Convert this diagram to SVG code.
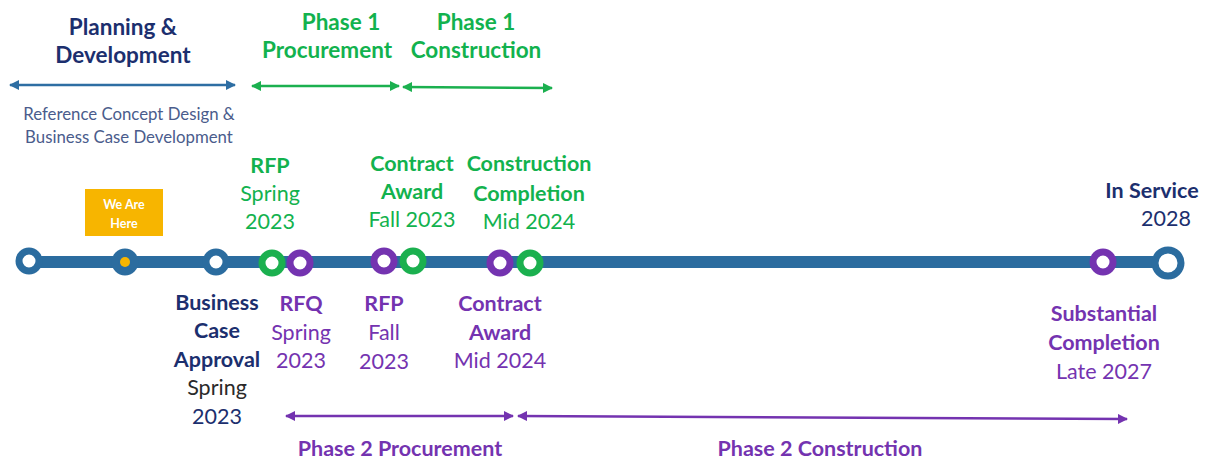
<svg xmlns="http://www.w3.org/2000/svg" width="1220" height="460" viewBox="0 0 1220 460">
  <style>
    text { font-family: Lato, "Open Sans", "Liberation Sans", sans-serif; font-size: 21.5px; text-anchor: middle; }
    .b { font-weight: bold; }
    .h { font-size: 22.5px; }
    .navy { fill: #1c2f6e; }
    .green { fill: #12b24e; }
    .purple { fill: #7433b0; }
    .slate { fill: #4a5c8c; font-size: 16.8px; }
    .dark { fill: #2a2a2a; }
    .span { fill: none; stroke-width: 2.5; }
    .ring { fill: #ffffff; stroke-width: 7; }
    .rail { stroke: #2b6c9f; stroke-width: 12; fill: none; }
  </style>
  <defs>
    <marker id="ah-blue" viewBox="0 0 10 10" refX="9" refY="5" markerWidth="4" markerHeight="4" orient="auto-start-reverse">
      <path d="M0,0 L10,5 L0,10 z" fill="#2e6ea3"/>
    </marker>
    <marker id="ah-green" viewBox="0 0 10 10" refX="9" refY="5" markerWidth="4" markerHeight="4" orient="auto-start-reverse">
      <path d="M0,0 L10,5 L0,10 z" fill="#1bb04f"/>
    </marker>
    <marker id="ah-purple" viewBox="0 0 10 10" refX="9" refY="5" markerWidth="4" markerHeight="4" orient="auto-start-reverse">
      <path d="M0,0 L10,5 L0,10 z" fill="#7433b0"/>
    </marker>
  </defs>

  <!-- phase headings -->
  <g id="planning">
    <text class="b h navy" x="123" y="35">Planning &amp;</text>
    <text class="b h navy" x="123" y="63">Development</text>
    <text class="slate" x="129" y="120">Reference Concept Design &amp;</text>
    <text class="slate" x="129" y="143">Business Case Development</text>
  </g>
  <g id="phase1-procurement">
    <text class="b h green" x="341" y="30">Phase 1</text>
    <text class="b h green" x="327" y="58">Procurement</text>
  </g>
  <g id="phase1-construction">
    <text class="b h green" x="476" y="30">Phase 1</text>
    <text class="b h green" x="476" y="58">Construction</text>
  </g>
  <g id="phase2-procurement">
    <text class="b purple" x="400" y="456">Phase 2 Procurement</text>
  </g>
  <g id="phase2-construction">
    <text class="b purple" x="820" y="456">Phase 2 Construction</text>
  </g>

  <!-- connectors: span arrows and the timeline rail -->
  <g id="connectors">
    <line class="span" x1="10" y1="85" x2="235" y2="85" stroke="#2e6ea3" marker-start="url(#ah-blue)" marker-end="url(#ah-blue)"/>
    <line class="span" x1="252" y1="86" x2="399" y2="86" stroke="#1bb04f" marker-start="url(#ah-green)" marker-end="url(#ah-green)"/>
    <line class="span" x1="403" y1="87" x2="552" y2="88" stroke="#1bb04f" marker-start="url(#ah-green)" marker-end="url(#ah-green)"/>
    <line class="span" x1="286" y1="416" x2="513" y2="416" stroke="#7433b0" marker-start="url(#ah-purple)" marker-end="url(#ah-purple)"/>
    <line class="span" x1="518" y1="416" x2="1127" y2="419" stroke="#7433b0" marker-start="url(#ah-purple)" marker-end="url(#ah-purple)"/>
    <line class="rail" x1="29" y1="262" x2="1168" y2="262"/>
  </g>

  <!-- milestones -->
  <g id="start">
    <circle class="ring" cx="29" cy="261" r="10" stroke="#2b6c9f"/>
  </g>
  <g id="we-are-here">
    <rect x="85" y="189" width="78" height="47" fill="#f7b500"/>
    <text class="b" x="124" y="209" fill="#ffffff" style="font-size:12.5px">We Are</text>
    <text class="b" x="124" y="228" fill="#ffffff" style="font-size:12.5px">Here</text>
    <circle cx="125" cy="262" r="10" fill="#2b6c9f" stroke="#2b6c9f" stroke-width="7"/>
    <circle cx="125" cy="262" r="5" fill="#f7b500"/>
  </g>
  <g id="business-case-approval">
    <circle class="ring" cx="216" cy="262" r="10" stroke="#2b6c9f"/>
    <text class="b navy" x="217" y="310">Business</text>
    <text class="b navy" x="217" y="338">Case</text>
    <text class="b navy" x="217" y="367">Approval</text>
    <text class="dark" x="217" y="395">Spring</text>
    <text class="navy" x="217" y="424">2023</text>
  </g>
  <g id="p1-rfp">
    <circle class="ring" cx="272" cy="263" r="10" stroke="#1bb04f"/>
    <text class="b green" x="270" y="173">RFP</text>
    <text class="green" x="270" y="201">Spring</text>
    <text class="green" x="270" y="229">2023</text>
  </g>
  <g id="p2-rfq">
    <circle class="ring" cx="300" cy="263" r="10" stroke="#7433b0"/>
    <text class="b purple" x="301" y="311">RFQ</text>
    <text class="purple" x="301" y="340">Spring</text>
    <text class="purple" x="301" y="368">2023</text>
  </g>
  <g id="p2-rfp">
    <circle class="ring" cx="384" cy="261" r="10" stroke="#7433b0"/>
    <text class="b purple" x="384" y="311">RFP</text>
    <text class="purple" x="384" y="340">Fall</text>
    <text class="purple" x="384" y="369">2023</text>
  </g>
  <g id="p1-contract-award">
    <circle class="ring" cx="413" cy="261" r="10" stroke="#1bb04f"/>
    <text class="b green" x="412" y="171">Contract</text>
    <text class="b green" x="412" y="199">Award</text>
    <text class="green" x="412" y="227">Fall 2023</text>
  </g>
  <g id="p2-contract-award">
    <circle class="ring" cx="500" cy="263" r="10" stroke="#7433b0"/>
    <text class="b purple" x="500" y="311">Contract</text>
    <text class="b purple" x="500" y="340">Award</text>
    <text class="purple" x="500" y="368">Mid 2024</text>
  </g>
  <g id="p1-construction-completion">
    <circle class="ring" cx="530" cy="263" r="10" stroke="#1bb04f"/>
    <text class="b green" x="529" y="171">Construction</text>
    <text class="b green" x="529" y="201">Completion</text>
    <text class="green" x="529" y="229">Mid 2024</text>
  </g>
  <g id="substantial-completion">
    <circle class="ring" cx="1103" cy="262" r="10" stroke="#7433b0"/>
    <text class="b purple" x="1104" y="321">Substantial</text>
    <text class="b purple" x="1104" y="350">Completion</text>
    <text class="purple" x="1104" y="379">Late 2027</text>
  </g>
  <g id="in-service">
    <circle class="ring" cx="1168" cy="263" r="13" stroke="#2b6c9f" stroke-width="8"/>
    <text class="b navy" x="1152" y="198">In Service</text>
    <text class="navy" x="1166" y="226">2028</text>
  </g>
</svg>
